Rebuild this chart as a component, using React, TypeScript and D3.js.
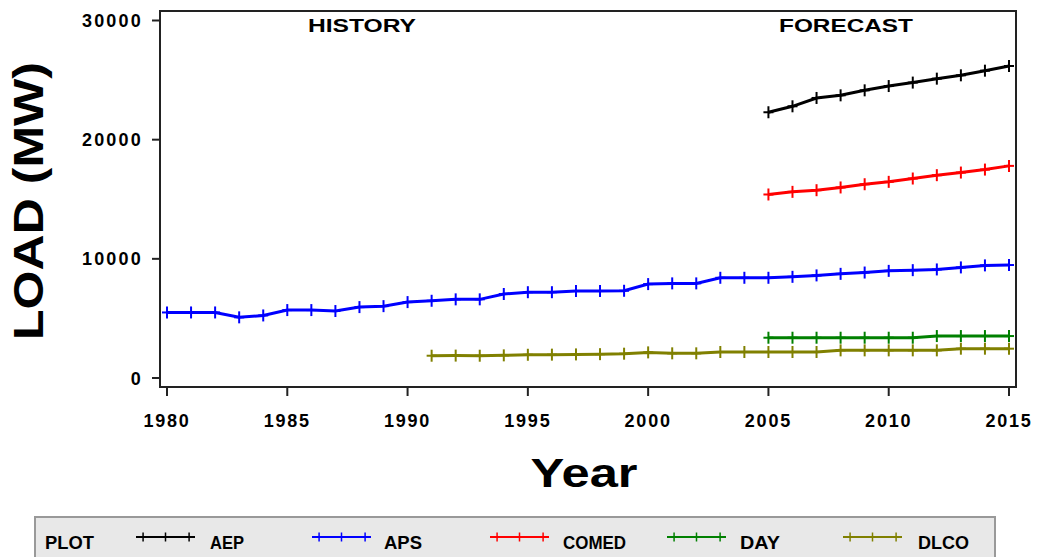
import React from "react";
import * as d3 from "d3";

const years = d3.range(1980, 2016);
const apsYears = years;
const apsValues = [5500, 5500, 5500, 5090, 5250, 5700, 5700, 5620, 5950, 6030, 6370, 6480, 6600, 6600, 7050, 7200, 7200, 7300, 7300, 7320, 7880, 7940, 7940, 8410, 8410, 8410, 8490, 8610, 8740, 8850, 8990, 9050, 9110, 9280, 9450, 9480];
const dlcoYears = d3.range(1991, 2016);
const dlcoValues = [1870, 1880, 1870, 1900, 1950, 1960, 1980, 2000, 2040, 2150, 2070, 2070, 2180, 2180, 2180, 2180, 2180, 2320, 2320, 2320, 2320, 2320, 2460, 2460, 2460];
const forecastYears = d3.range(2005, 2016);
const aepValues = [22300, 22800, 23500, 23720, 24140, 24500, 24790, 25120, 25400, 25790, 26180];
const comedValues = [15400, 15620, 15760, 15990, 16260, 16460, 16740, 17020, 17240, 17490, 17800];
const dayValues = [3380, 3380, 3380, 3380, 3380, 3380, 3380, 3520, 3520, 3520, 3520];

const xTicks = [1980, 1985, 1990, 1995, 2000, 2005, 2010, 2015];
const yTicks = [0, 10000, 20000, 30000];

const seriesList = [
  { name: "AEP", color: "#000000", xs: forecastYears, ys: aepValues },
  { name: "APS", color: "#0000ff", xs: apsYears, ys: apsValues },
  { name: "COMED", color: "#ff0000", xs: forecastYears, ys: comedValues },
  { name: "DAY", color: "#008000", xs: forecastYears, ys: dayValues },
  { name: "DLCO", color: "#808000", xs: dlcoYears, ys: dlcoValues },
];

const legendPos = [
  { lx: 136, tx: 210, tw: 34 },
  { lx: 312, tx: 384, tw: 38 },
  { lx: 490, tx: 563, tw: 63 },
  { lx: 667, tx: 740, tw: 40 },
  { lx: 843, tx: 918, tw: 51 },
];

export default function App() {
  const W = 1040, H = 557;
  const frame = { l: 160, r: 1016, t: 11, b: 387 };
  const x = d3.scaleLinear().domain([1980, 2015]).range([167, 1009]);
  const y = d3.scaleLinear().domain([0, 30000]).range([378, 20.5]);
  const font = "'Liberation Sans', Arial, sans-serif";

  return (
    <svg width={W} height={H} style={{ position: "absolute", left: 0, top: 0, background: "#fff" }}>
      <rect x={frame.l} y={frame.t} width={frame.r - frame.l} height={frame.b - frame.t} fill="none" stroke="#222" strokeWidth={2} />
      {yTicks.map((v) => (
        <g key={"y" + v}>
          <line x1={152} x2={frame.l} y1={y(v)} y2={y(v)} stroke="#222" strokeWidth={2} />
          <text x={143} y={y(v) + 6.5} textAnchor="end" fontFamily={font} fontWeight="bold" fontSize={18} letterSpacing={2.2} fill="#000">{v}</text>
        </g>
      ))}
      {xTicks.map((v) => (
        <g key={"x" + v}>
          <line x1={x(v)} x2={x(v)} y1={frame.b} y2={frame.b + 9} stroke="#222" strokeWidth={2} />
          <text x={x(v)} y={427} textAnchor="middle" fontFamily={font} fontWeight="bold" fontSize={18} letterSpacing={1.8} fill="#000">{v}</text>
        </g>
      ))}
      <text x={584} y={487} textAnchor="middle" fontFamily={font} fontWeight="bold" fontSize={41} textLength={107} lengthAdjust="spacingAndGlyphs" fill="#000">Year</text>
      <text transform={`translate(43,201) rotate(-90)`} textAnchor="middle" fontFamily={font} fontWeight="bold" fontSize={42} textLength={278} lengthAdjust="spacingAndGlyphs" fill="#000">LOAD (MW)</text>
      <text x={362} y={32} textAnchor="middle" fontFamily={font} fontWeight="bold" fontSize={19} textLength={108} lengthAdjust="spacingAndGlyphs" fill="#000">HISTORY</text>
      <text x={846} y={32} textAnchor="middle" fontFamily={font} fontWeight="bold" fontSize={19} textLength={134} lengthAdjust="spacingAndGlyphs" fill="#000">FORECAST</text>
      {seriesList.map((s) => {
        const pts: [number, number][] = s.xs.map((xv, i) => [x(xv), y(s.ys[i])]);
        const line = d3.line()(pts) || "";
        return (
          <g key={s.name}>
            <path d={line} fill="none" stroke={s.color} strokeWidth={3} />
            {pts.map(([px, py], i) => (
              <g key={i}>
                <line x1={px} x2={px} y1={py - 6} y2={py + 6} stroke={s.color} strokeWidth={2} />
                <line x1={px - 5} x2={px + 5} y1={py} y2={py} stroke={s.color} strokeWidth={2} />
              </g>
            ))}
          </g>
        );
      })}
      <rect x={35} y={517} width={960} height={45} fill="#e8e8e8" stroke="#999" strokeWidth={2} />
      <text x={45} y={549} fontFamily={font} fontWeight="bold" fontSize={19} textLength={49} lengthAdjust="spacingAndGlyphs" fill="#000">PLOT</text>
      {seriesList.map((s, i) => {
        const p = legendPos[i];
        const len = 59;
        const ly = 537;
        return (
          <g key={"leg" + s.name}>
            <line x1={p.lx} x2={p.lx + len} y1={ly} y2={ly} stroke={s.color} strokeWidth={2} />
            {[0.12, 0.5, 0.9].map((f) => (
              <line key={f} x1={p.lx + f * len} x2={p.lx + f * len} y1={ly - 4.5} y2={ly + 4.5} stroke={s.color} strokeWidth={1.5} />
            ))}
            <text x={p.tx} y={549} fontFamily={font} fontWeight="bold" fontSize={19} textLength={p.tw} lengthAdjust="spacingAndGlyphs" fill="#000">{s.name}</text>
          </g>
        );
      })}
    </svg>
  );
}
